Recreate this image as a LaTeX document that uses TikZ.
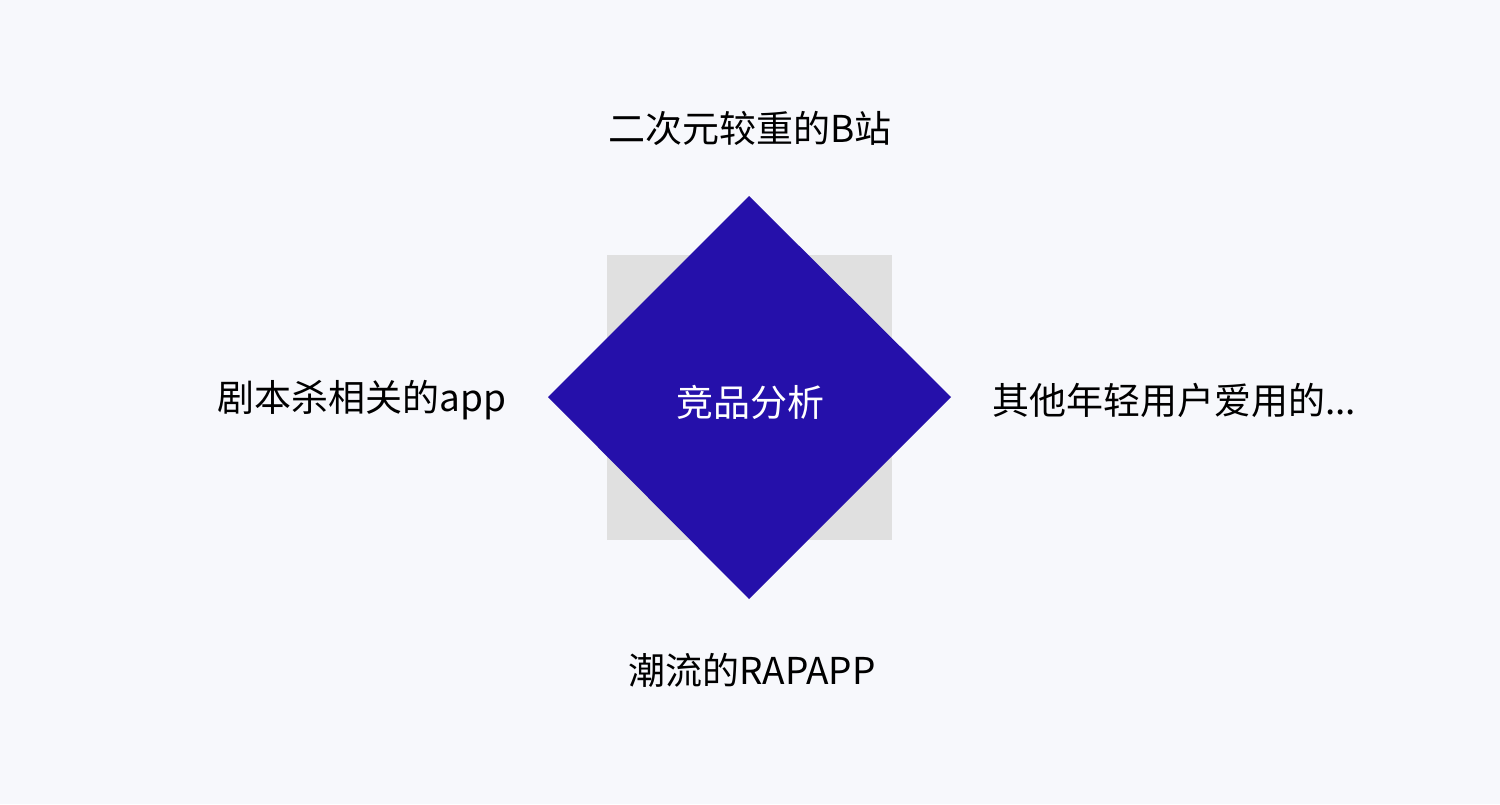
\documentclass[tikz,border=0pt]{standalone}
\usepackage{fontspec}
\setmainfont{Noto Sans CJK SC}
\definecolor{bg}{HTML}{F7F8FC}
\definecolor{dia}{HTML}{2510AA}
\definecolor{sq}{HTML}{E0E0E0}
\begin{document}
\begin{tikzpicture}[x=0.5pt,y=-0.5pt,lbl/.style={font=\fontsize{18.5pt}{22pt}\selectfont,text=black,inner sep=0}]
\fill[bg] (0,0) rectangle (1500,804);
\useasboundingbox (0,0) rectangle (1500,804);
\fill[sq] (607,255) rectangle (892,540);
\fill[dia] (749,196) -- (951,397) -- (749,599) -- (548,397) -- cycle;
\node[lbl,text=white] (c) at (750,402) {竞品分析};
\node[lbl] (t) at (750,128) {二次元较重的B站};
\node[lbl] (l) at (362,400) {剧本杀相关的app};
\node[lbl,anchor=west] (r) at (992,400) {其他年轻用户爱用的...};
\node[lbl] (b) at (752,670) {潮流的RAPAPP};
\end{tikzpicture}
\end{document}
